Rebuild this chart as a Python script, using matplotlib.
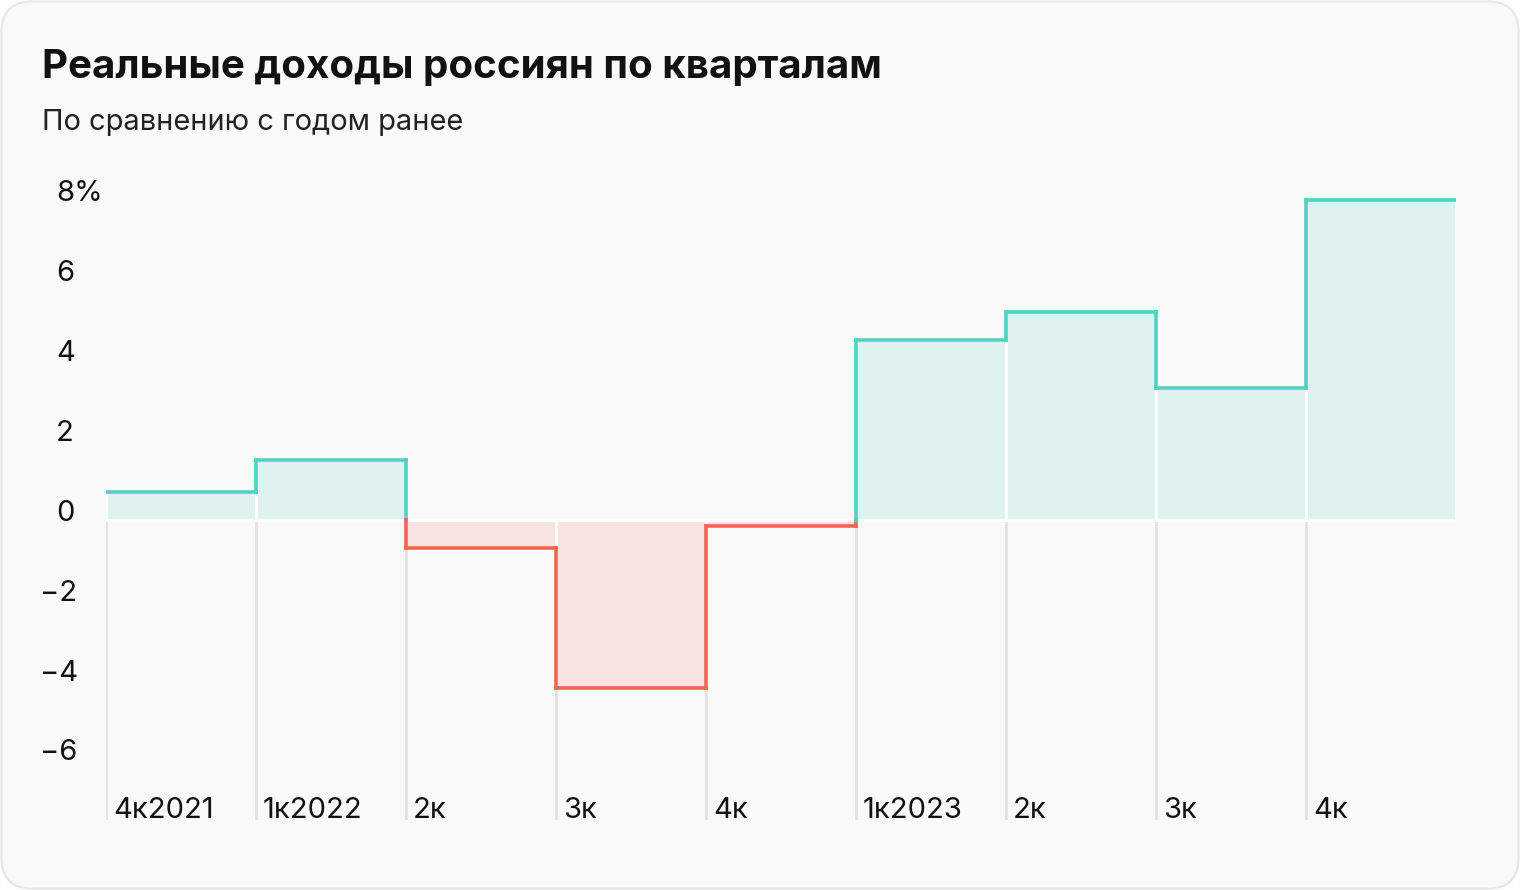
import matplotlib
matplotlib.use("Agg")
import matplotlib.pyplot as plt
from matplotlib.patches import FancyBboxPatch
import matplotlib.transforms as mtransforms

# ---- data ----
quarters = ["4к2021", "1к2022", "2к", "3к", "4к", "1к2023", "2к", "3к", "4к"]
values = [0.7, 1.5, -0.7, -4.2, -0.15, 4.5, 5.2, 3.3, 8.0]
yticks = [8, 6, 4, 2, 0, -2, -4, -6]
title = "Реальные доходы россиян по кварталам"
subtitle = "По сравнению с годом ранее"

# ---- style ----
FONT = ["Inter", "DejaVu Sans"]
plt.rcParams["font.family"] = FONT
TEAL = "#52D1C3"
TEAL_FILL = "#E0F2F0"
RED = "#F26553"
RED_FILL = "#F8E3E1"
BG = "#F9F9F9"
GRID = "#E2E2E2"

W, H = 1520, 890
fig = plt.figure(figsize=(W / 100, H / 100), dpi=100)
fig.patch.set_facecolor("white")

card = FancyBboxPatch((1.5 / W, 1.5 / H), (W - 3) / W, (H - 3) / H,
                      boxstyle="round,pad=0,rounding_size=0.02",
                      transform=fig.transFigure, facecolor=BG,
                      edgecolor="#E6E6E6", linewidth=1.5,
                      mutation_aspect=W / H, zorder=-10)
fig.patches.append(card)

fig.text(42 / W, 1 - 67 / H, title, fontsize=29, fontweight="bold",
         ha="left", va="center", color="#111111")
fig.text(42 / W, 1 - 123 / H, subtitle, fontsize=20.9,
         ha="left", va="center", color="#222222")

# axes: x 106..1456 px, y 190..820 px
ax_left, ax_right = 106, 1456
ax_top, ax_bot = 190, 820
ax = fig.add_axes([ax_left / W, 1 - ax_bot / H,
                   (ax_right - ax_left) / W, (ax_bot - ax_top) / H])
ax.set_facecolor("none")
ax.set_zorder(5)
n = len(values)
ax.set_xlim(0, n)
ax.set_ylim(-7.5, 8.25)
for s in ax.spines.values():
    s.set_visible(False)
ax.set_xticks([])
ax.set_yticks([])

# gray gridlines below zero
ax.vlines(range(n), -7.5, 0, colors=GRID, linewidth=2, zorder=1)

# bars (fills) with white separators
for i, v in enumerate(values):
    ax.bar(i, v, width=1, align="edge",
           color=TEAL_FILL if v >= 0 else RED_FILL,
           edgecolor="white", linewidth=2, zorder=2)

# step line split by sign
def col(v):
    return TEAL if v >= 0 else RED

lw = 2.6
for i, v in enumerate(values):
    ax.plot([i, i + 1], [v, v], color=col(v), lw=lw, zorder=4,
            solid_capstyle="projecting")
    if i + 1 < n:
        w = values[i + 1]
        if (v >= 0) == (w >= 0):
            ax.plot([i + 1, i + 1], [v, w], color=col(w), lw=lw, zorder=4,
                    solid_capstyle="projecting")
        else:
            ax.plot([i + 1, i + 1], [v, 0], color=col(v), lw=lw, zorder=4)
            ax.plot([i + 1, i + 1], [0, w], color=col(w), lw=lw, zorder=5)

# y labels (digits aligned, minus hanging to the left)
ytrans = mtransforms.blended_transform_factory(fig.transFigure, ax.transData)
off = mtransforms.ScaledTranslation(0, 7 / 100, fig.dpi_scale_trans)
for t in yticks:
    if t < 0:
        label, x = f"−{abs(t)}", 40
    else:
        label, x = f"{t}" + ("%" if t == yticks[0] else ""), 56
    ax.text(x / W, t, label, transform=ytrans + off, fontsize=21,
            ha="left", va="center", color="#111111", clip_on=False)

# x labels
xtrans = mtransforms.blended_transform_factory(ax.transData, fig.transFigure)
xoff = mtransforms.ScaledTranslation(7 / 100, 0, fig.dpi_scale_trans)
for i, q in enumerate(quarters):
    ax.text(i, 1 - 811 / H, q, transform=xtrans + xoff, fontsize=21,
            ha="left", va="center", color="#111111", clip_on=False)

fig.savefig("out.png", dpi=100, facecolor="white")
